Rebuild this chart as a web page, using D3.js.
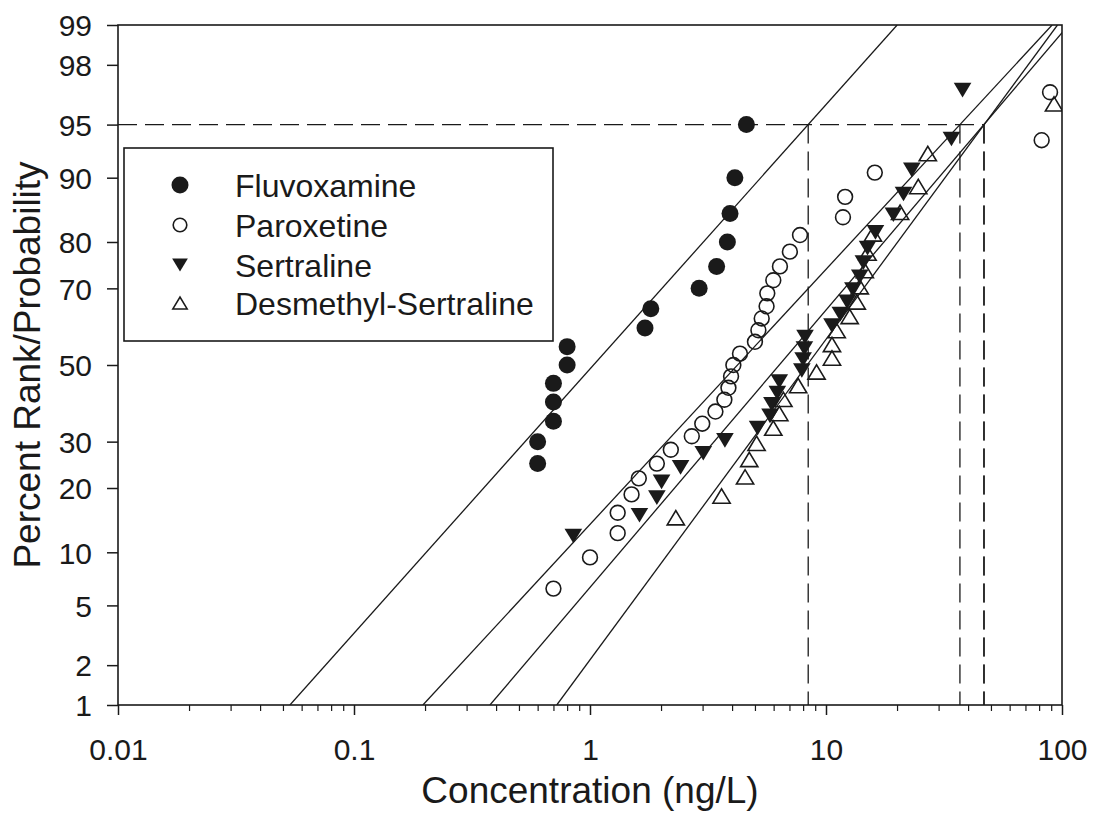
<!DOCTYPE html>
<html><head><meta charset="utf-8">
<script src="https://cdn.jsdelivr.net/npm/d3@7"></script>
<style>
body{margin:0;background:#fff;}
svg{display:block;}
text{font-family:Arial,"Liberation Sans",sans-serif;fill:#1a1a1a;}
</style>
</head><body>
<svg id="chart" width="1093" height="815"></svg>
<script>
// ---------------- data ----------------
const seriesNames = ["Fluvoxamine", "Paroxetine", "Sertraline", "Desmethyl-Sertraline"];

const fluvoxamineConc = [0.60, 0.60, 0.70, 0.70, 0.70, 0.80, 0.80, 1.71, 1.81, 2.90, 3.44, 3.82, 3.92, 4.11, 4.60];
const fluvoxamineRank = [25, 30, 35, 40, 45, 50, 55, 60, 65, 70, 75, 80, 85, 90, 95];

const paroxetineConc = [0.70, 1.00, 1.31, 1.31, 1.50, 1.61, 1.92, 2.20, 2.70, 2.99, 3.40, 3.71, 3.86, 3.96, 4.05,
  4.32, 5.00, 5.17, 5.34, 5.60, 5.64, 5.98, 6.38, 7.03, 7.76, 11.8, 12.05, 16.1, 82.0, 89.0];
const paroxetineRank = [6.3, 9.4, 12.5, 15.6, 18.8, 21.9, 25.0, 28.1, 31.3, 34.4, 37.5, 40.6, 43.8, 46.9, 50.0,
  53.1, 56.3, 59.4, 62.5, 65.6, 68.8, 71.9, 75.0, 78.1, 81.3, 84.4, 87.5, 90.6, 93.8, 96.9];

const sertralineConc = [0.85, 1.62, 1.92, 2.01, 2.42, 3.02, 3.73, 5.13, 5.79, 5.90, 6.22, 6.34, 7.90, 8.00, 8.10,
  8.15, 10.6, 11.5, 12.3, 13.0, 13.9, 14.4, 15.0, 16.2, 19.3, 21.3, 23.1, 34.0, 37.9];
const sertralineRank = [12.1, 15.2, 18.2, 21.2, 24.2, 27.3, 30.3, 33.3, 36.4, 39.4, 42.4, 45.5, 48.5, 51.5, 54.5,
  57.6, 60.6, 63.6, 66.7, 69.7, 72.7, 75.8, 78.8, 81.8, 84.8, 87.9, 90.9, 93.9, 97.0];

const desmethylConc = [2.31, 3.61, 4.54, 4.73, 5.08, 5.98, 6.34, 6.60, 7.62, 9.12, 10.6, 10.6, 11.1, 12.6, 13.5,
  13.9, 14.6, 15.0, 15.8, 20.6, 24.6, 27.0, 92.5];
const desmethylRank = [14.8, 18.5, 22.2, 25.9, 29.6, 33.3, 37.0, 40.7, 44.4, 48.1, 51.9, 55.6, 59.3, 63.0, 66.7,
  70.4, 74.1, 77.8, 81.5, 85.2, 88.9, 92.6, 96.3];

// log-normal fits: log10 geometric mean and log10 standard deviation
const fitLogMean = [0.015, 0.625, 0.802, 0.920];
const fitLogSD   = [0.553, 0.573, 0.527, 0.456];
const referencePercent = 95;

const xTickValues = [0.01, 0.1, 1, 10, 100];
const yTickValues = [1, 2, 5, 10, 20, 30, 50, 70, 80, 90, 95, 98, 99];

// ---------------- helpers ----------------
function qnorm(p) { // Acklam inverse normal CDF
  const a = [-3.969683028665376e+01, 2.209460984245205e+02, -2.759285104469687e+02, 1.383577518672690e+02, -3.066479806614716e+01, 2.506628277459239e+00];
  const b = [-5.447609879822406e+01, 1.615858368580409e+02, -1.556989798598866e+02, 6.680131188771972e+01, -1.328068155288572e+01];
  const c = [-7.784894002430293e-03, -3.223964580411365e-01, -2.400758277161838e+00, -2.549671010115159e+00, 4.374664141464968e+00, 2.938163982698783e+00];
  const d = [7.784695709041462e-03, 3.224671290700398e-01, 2.445134137142996e+00, 3.754408661907416e+00];
  const pl = 0.02425, ph = 1 - pl;
  let q, r;
  if (p < pl) { q = Math.sqrt(-2 * Math.log(p));
    return (((((c[0]*q+c[1])*q+c[2])*q+c[3])*q+c[4])*q+c[5]) / ((((d[0]*q+d[1])*q+d[2])*q+d[3])*q+1); }
  if (p > ph) { q = Math.sqrt(-2 * Math.log(1 - p));
    return -(((((c[0]*q+c[1])*q+c[2])*q+c[3])*q+c[4])*q+c[5]) / ((((d[0]*q+d[1])*q+d[2])*q+d[3])*q+1); }
  q = p - 0.5; r = q * q;
  return (((((a[0]*r+a[1])*r+a[2])*r+a[3])*r+a[4])*r+a[5])*q / (((((b[0]*r+b[1])*r+b[2])*r+b[3])*r+b[4])*r+1);
}

const plot = {left: 118, right: 1062, top: 25, bottom: 705};
const svg = d3.select("#chart");
const ink = "#1a1a1a";

const x = d3.scaleLog().domain([0.01, 100]).range([plot.left, plot.right]);
const zScale = d3.scaleLinear().domain([qnorm(0.01), qnorm(0.99)]).range([plot.bottom, plot.top]);
function probitScale() {
  const s = p => zScale(qnorm(p / 100));
  s.range = () => zScale.range();
  s.domain = () => [1, 99];
  s.copy = () => probitScale();
  return s;
}
const y = probitScale();

// clip
svg.append("defs").append("clipPath").attr("id", "plotClip")
  .append("rect").attr("x", plot.left).attr("y", plot.top)
  .attr("width", plot.right - plot.left).attr("height", plot.bottom - plot.top);

// ---------------- axes ----------------
const xAxis = svg.append("g").attr("transform", `translate(0,${plot.bottom})`)
  .call(d3.axisBottom(x).tickValues(xTickValues).tickSize(10).tickFormat(d => String(d)));
xAxis.select(".domain").remove();
xAxis.selectAll(".tick line").attr("stroke", ink).attr("stroke-width", 1.5);
xAxis.selectAll(".tick text").attr("y", 55).attr("dy", null)
  .style("font-size", "30px").attr("fill", ink);

const minorVals = [];
[0.01, 0.1, 1, 10].forEach(dec => { for (let k = 2; k <= 9; k++) minorVals.push(dec * k); });
const xMinor = svg.append("g").attr("transform", `translate(0,${plot.bottom})`)
  .call(d3.axisBottom(x).tickValues(minorVals).tickSize(6).tickFormat(""));
xMinor.select(".domain").remove();
xMinor.selectAll(".tick line").attr("stroke", ink).attr("stroke-width", 1.2);

const yAxis = svg.append("g").attr("transform", `translate(${plot.left},0)`)
  .call(d3.axisLeft(y).tickValues(yTickValues).tickSize(11).tickFormat(d => String(d)));
yAxis.select(".domain").remove();
yAxis.selectAll(".tick line").attr("stroke", ink).attr("stroke-width", 1.5);
yAxis.selectAll(".tick text").attr("x", -26).attr("dy", "0.36em")
  .style("font-size", "30px").attr("fill", ink);

// frame
svg.append("rect").attr("x", plot.left).attr("y", plot.top)
  .attr("width", plot.right - plot.left).attr("height", plot.bottom - plot.top)
  .attr("fill", "none").attr("stroke", ink).attr("stroke-width", 1.6);

// axis titles
svg.append("text").attr("x", (plot.left + plot.right) / 2).attr("y", 803)
  .attr("text-anchor", "middle").style("font-size", "37px").text("Concentration (ng/L)");
svg.append("text").attr("transform", `translate(40,${(plot.top + plot.bottom) / 2}) rotate(-90)`)
  .attr("text-anchor", "middle").style("font-size", "37px").text("Percent Rank/Probability");

// ---------------- fit lines & 95th percentile guides ----------------
const zLo = qnorm(0.01), zHi = qnorm(0.99), z95 = qnorm(referencePercent / 100);
const fitG = svg.append("g").attr("clip-path", "url(#plotClip)");
const p95 = fitLogMean.map((m, i) => Math.pow(10, m + z95 * fitLogSD[i]));

fitLogMean.forEach((m, i) => {
  const s = fitLogSD[i];
  const c1 = Math.pow(10, m + zLo * s), c2 = Math.pow(10, m + zHi * s);
  fitG.append("line")
    .attr("x1", x(c1)).attr("y1", y(1)).attr("x2", x(c2)).attr("y2", y(99))
    .attr("stroke", ink).attr("stroke-width", 1.3);
});

const dash = "19,8";
fitG.append("line").attr("x1", plot.left).attr("x2", x(d3.max(p95)))
  .attr("y1", y(referencePercent)).attr("y2", y(referencePercent))
  .attr("stroke", ink).attr("stroke-width", 1.3).attr("stroke-dasharray", dash);
p95.forEach(v => {
  fitG.append("line").attr("x1", x(v)).attr("x2", x(v))
    .attr("y1", y(referencePercent)).attr("y2", plot.bottom)
    .attr("stroke", ink).attr("stroke-width", 1.3).attr("stroke-dasharray", dash);
});

// ---------------- markers ----------------
function marker(sel, kind, sz) {
  if (kind === "circleFilled") {
    sel.append("circle").attr("r", sz).attr("fill", ink);
  } else if (kind === "circleOpen") {
    sel.append("circle").attr("r", sz).attr("fill", "none").attr("stroke", ink).attr("stroke-width", 1.6);
  } else if (kind === "triDown") {
    const w = sz * 2.1, h = sz * 1.75;
    sel.append("path").attr("d", `M${-w/2},${-h/2}L${w/2},${-h/2}L0,${h/2}Z`).attr("fill", ink);
  } else {
    const w = sz * 2.1, h = sz * 1.75;
    sel.append("path").attr("d", `M${-w/2},${h/2}L${w/2},${h/2}L0,${-h/2}Z`)
      .attr("fill", "none").attr("stroke", ink).attr("stroke-width", 1.6);
  }
}

const seriesData = [
  {conc: fluvoxamineConc, rank: fluvoxamineRank, kind: "circleFilled", size: 8.5, lsize: 8.5},
  {conc: paroxetineConc, rank: paroxetineRank, kind: "circleOpen", size: 7.4, lsize: 6.8},
  {conc: sertralineConc, rank: sertralineRank, kind: "triDown", size: 8.4, lsize: 7.5},
  {conc: desmethylConc, rank: desmethylRank, kind: "triUp", size: 8.2, lsize: 6.8}
];

const ptsG = svg.append("g").attr("clip-path", "url(#plotClip)");
seriesData.forEach(s => {
  s.conc.forEach((c, j) => {
    const g = ptsG.append("g").attr("transform", `translate(${x(c)},${y(s.rank[j])})`);
    marker(g, s.kind, s.size);
  });
});

// ---------------- legend ----------------
const leg = svg.append("g");
leg.append("rect").attr("x", 124).attr("y", 148).attr("width", 429).attr("height", 193)
  .attr("fill", "#fff").attr("stroke", ink).attr("stroke-width", 1.6);
const rowY = [185, 225, 265, 303];
seriesNames.forEach((name, i) => {
  const g = leg.append("g").attr("transform", `translate(180,${rowY[i]})`);
  marker(g, seriesData[i].kind, seriesData[i].lsize);
  leg.append("text").attr("x", 235).attr("y", rowY[i]).attr("dy", "0.36em")
    .style("font-size", "32px").text(name);
});
</script>
</body></html>
